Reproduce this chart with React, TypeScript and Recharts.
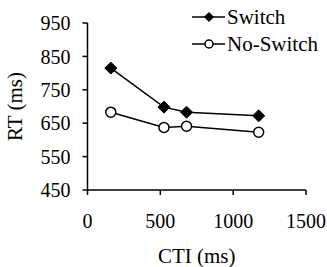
import React from 'react';
import { LineChart, Line, XAxis, YAxis } from 'recharts';

const ctiValues = [160, 525, 680, 1175];
const switchRT = [815, 698, 683, 672];
const noSwitchRT = [683, 637, 641, 623];
const xTicks = [0, 500, 1000, 1500];
const yTicks = [450, 550, 650, 750, 850, 950];
const seriesNames = ['Switch', 'No-Switch'];

const data = ctiValues.map((cti, i) => ({
  cti,
  sw: switchRT[i],
  ns: noSwitchRT[i],
}));

const FONT = "'Liberation Serif', 'DejaVu Serif', serif";
const textStyle = { fontFamily: FONT };

const Diamond = (props: any) => {
  const { cx, cy, r = 5 } = props;
  if (cx == null || cy == null) return null;
  return (
    <path
      d={`M${cx},${cy - r} L${cx + r},${cy} L${cx},${cy + r} L${cx - r},${cy} Z`}
      fill="#000"
      stroke="#000"
    />
  );
};

const Circle = (props: any) => {
  const { cx, cy, r = 5 } = props;
  if (cx == null || cy == null) return null;
  return <circle cx={cx} cy={cy} r={r} fill="#fff" stroke="#000" strokeWidth={1.5} />;
};

const LegendBox = () => (
  <svg
    width={140}
    height={60}
    style={{ position: 'absolute', left: 192, top: 0, overflow: 'visible' }}
  >
    {seriesNames.map((name, i) => {
      const y = 17 + i * 27;
      return (
        <g key={name}>
          <line x1={0} x2={33} y1={y} y2={y} stroke="#000" strokeWidth={1.5} />
          {i === 0 ? <Diamond cx={17} cy={y} r={4.5} /> : <Circle cx={17} cy={y} r={4} />}
          <text x={35} y={y + 7} style={textStyle} fontSize={21} fill="#000">
            {name}
          </text>
        </g>
      );
    })}
  </svg>
);

const YLabel = (props: any) => {
  const vb = props.viewBox || {};
  const cy = vb.y + vb.height / 2;
  const cx = 15;
  return (
    <text
      x={cx}
      y={cy}
      transform={`rotate(-90, ${cx}, ${cy})`}
      textAnchor="middle"
      dominantBaseline="central"
      style={textStyle}
      fontSize={21}
      fill="#000"
    >
      RT (ms)
    </text>
  );
};

const XLabel = (props: any) => {
  const vb = props.viewBox || {};
  const cx = vb.x + vb.width / 2;
  return (
    <text
      x={cx}
      y={256}
      textAnchor="middle"
      dominantBaseline="central"
      style={textStyle}
      fontSize={21}
      fill="#000"
    >
      CTI (ms)
    </text>
  );
};

export default function App() {
  return (
    <div style={{ position: 'absolute', left: 0, top: 0, width: 327, height: 267, fontFamily: FONT }}>
      <LineChart
        width={327}
        height={267}
        data={data}
        margin={{ top: 23, right: 21, bottom: 0, left: 0 }}
        style={textStyle}
      >
        <XAxis
          dataKey="cti"
          type="number"
          domain={[0, 1500]}
          ticks={xTicks}
          interval={0}
          height={77}
          tickSize={5}
          tickMargin={19}
          axisLine={{ stroke: '#000', strokeWidth: 1.5 }}
          tickLine={{ stroke: '#000', strokeWidth: 1.5 }}
          tick={{ fill: '#000', fontSize: 20, style: textStyle }}
          label={<XLabel />}
        />
        <YAxis
          type="number"
          domain={[450, 950]}
          ticks={yTicks}
          interval={0}
          width={87.5}
          tickSize={5}
          tickMargin={12}
          axisLine={{ stroke: '#000', strokeWidth: 1.5 }}
          tickLine={{ stroke: '#000', strokeWidth: 1.5 }}
          tick={{ fill: '#000', fontSize: 20, style: textStyle }}
          label={<YLabel />}
        />
        <Line
          dataKey="sw"
          name="Switch"
          stroke="#000"
          strokeWidth={1.5}
          isAnimationActive={false}
          dot={<Diamond r={6} />}
        />
        <Line
          dataKey="ns"
          name="No-Switch"
          stroke="#000"
          strokeWidth={1.5}
          isAnimationActive={false}
          dot={<Circle r={5} />}
        />
      </LineChart>
      <LegendBox />
    </div>
  );
}
